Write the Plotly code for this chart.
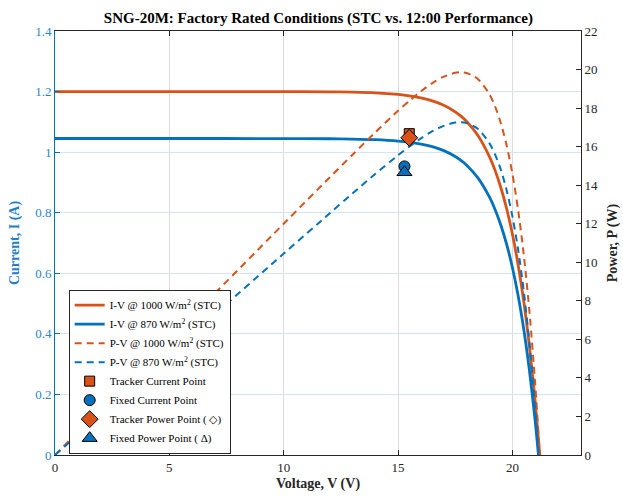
import plotly.graph_objects as go

# ---- data ----
v_1000 = [0, 5, 10, 12, 13, 14, 15, 15.5, 16, 16.5, 17, 17.5, 17.75, 18, 18.5, 19, 19.25, 19.5, 19.75, 20, 20.25, 20.5, 20.75, 21.0, 21.2]
i_1000 = [1.2, 1.2, 1.1998, 1.1991, 1.1980, 1.1957, 1.1905, 1.1860, 1.1793, 1.1694, 1.1548, 1.1332, 1.1188, 1.1013,
          1.0542, 0.9845, 0.9381, 0.8816, 0.8131, 0.7297, 0.6283, 0.5052, 0.3556, 0.1734, 0.0]
p_1000 = [0, 6.0, 12.0, 14.39, 15.57, 16.74, 17.86, 18.38, 18.87, 19.30, 19.63, 19.83, 19.86, 19.82,
          19.50, 18.71, 18.06, 17.19, 16.06, 14.59, 12.72, 10.36, 7.38, 3.64, 0.0]

v_870 = [0, 5, 10, 12, 13, 14, 15, 15.5, 16, 16.5, 17, 17.5, 17.75, 18, 18.5, 19, 19.25, 19.5, 19.75, 20, 20.25, 20.5, 20.75, 21.0, 21.14]
i_870 = [1.045, 1.045, 1.0448, 1.0442, 1.0433, 1.0412, 1.0367, 1.0327, 1.0267, 1.0179, 1.0049, 0.9855, 0.9726, 0.9568,
         0.9143, 0.8512, 0.8090, 0.7577, 0.6952, 0.6192, 0.5265, 0.4136, 0.2763, 0.1091, 0.0]
p_870 = [0, 5.225, 10.45, 12.53, 13.56, 14.58, 15.55, 16.01, 16.43, 16.80, 17.08, 17.25, 17.26, 17.22,
         16.91, 16.17, 15.57, 14.78, 13.73, 12.38, 10.66, 8.48, 5.73, 2.29, 0.0]

tracker_v, tracker_i, tracker_p = [15.49], [1.061], [16.46]
fixed_v, fixed_i, fixed_p = [15.28], [0.953], [14.67]

x_ticks = [0, 5, 10, 15, 20]
yl_ticks = [0, 0.2, 0.4, 0.6, 0.8, 1.0, 1.2, 1.4]
yr_ticks = list(range(0, 23, 2))

ORANGE = "#D95319"
BLUE = "#0072BD"
SERIF = "Liberation Serif, Times New Roman, serif"
DARK = "#262626"

fig = go.Figure()
fig.add_trace(go.Scatter(x=v_1000, y=i_1000, mode="lines", name="I-V @ 1000 W/m<sup>2</sup> (STC)",
                         line=dict(color=ORANGE, width=2.8, shape="spline", smoothing=0.8)))
fig.add_trace(go.Scatter(x=v_870, y=i_870, mode="lines", name="I-V @ 870 W/m<sup>2</sup> (STC)",
                         line=dict(color=BLUE, width=2.8, shape="spline", smoothing=0.8)))
fig.add_trace(go.Scatter(x=v_1000, y=p_1000, mode="lines", name="P-V @ 1000 W/m<sup>2</sup> (STC)", yaxis="y2",
                         line=dict(color=ORANGE, width=2, dash="7px,5px", shape="spline", smoothing=0.8)))
fig.add_trace(go.Scatter(x=v_870, y=p_870, mode="lines", name="P-V @ 870 W/m<sup>2</sup> (STC)", yaxis="y2",
                         line=dict(color=BLUE, width=2, dash="7px,5px", shape="spline", smoothing=0.8)))
fig.add_trace(go.Scatter(x=tracker_v, y=tracker_i, mode="markers", name="Tracker Current Point",
                         marker=dict(symbol="square", size=10, color=ORANGE, line=dict(color="black", width=1))))
fig.add_trace(go.Scatter(x=fixed_v, y=fixed_i, mode="markers", name="Fixed Current Point",
                         marker=dict(symbol="circle", size=11, color=BLUE, line=dict(color="black", width=1))))
fig.add_trace(go.Scatter(x=tracker_v, y=tracker_p, mode="markers", name="Tracker Power Point ( \u25c7)", yaxis="y2",
                         marker=dict(symbol="diamond", size=13, color=ORANGE, line=dict(color="black", width=1))))
fig.add_trace(go.Scatter(x=fixed_v, y=fixed_p, mode="markers", name="Fixed Power Point ( \u0394)", yaxis="y2",
                         marker=dict(symbol="triangle-up", size=13, color=BLUE, line=dict(color="black", width=1))))

fig.update_layout(
    width=623, height=497,
    margin=dict(l=55, r=42, t=31, b=42),
    paper_bgcolor="white", plot_bgcolor="white",
    font=dict(family=SERIF, size=13, color=DARK),
    title=dict(text="SNG-20M: Factory Rated Conditions (STC vs. 12:00 Performance)",
               x=0.511, xanchor="center", y=0.965, yanchor="middle",
               font=dict(family=SERIF, size=15, color="black", weight="bold")),
    xaxis=dict(range=[0, 23], tickvals=x_ticks, showgrid=True, gridcolor="#dcdcdc", gridwidth=1,
               zeroline=False, showline=True, linecolor=DARK, linewidth=1, mirror="ticks",
               ticks="inside", ticklen=5, tickcolor=DARK, automargin=False,
               tickfont=dict(family=SERIF, size=13, color=DARK),
               title=dict(text="Voltage, V (V)", standoff=4,
                          font=dict(family=SERIF, size=14, color=DARK, weight="bold"))),
    yaxis=dict(range=[0, 1.4], tickvals=yl_ticks, showgrid=True, gridcolor="#d5e6f3", gridwidth=1,
               zeroline=False, showline=True, linecolor=BLUE, linewidth=1, mirror=False,
               ticks="inside", ticklen=5, tickcolor=BLUE, automargin=False,
               tickfont=dict(family=SERIF, size=13, color="#2a86cc"),
               title=dict(text="Current, I (A)", standoff=12,
                          font=dict(family=SERIF, size=14, color="#1f7fc8", weight="bold"))),
    yaxis2=dict(range=[0, 22], tickvals=yr_ticks, overlaying="y", side="right", showgrid=False,
                zeroline=False, showline=True, linecolor=DARK, linewidth=1,
                ticks="inside", ticklen=5, tickcolor=DARK, automargin=False,
                tickfont=dict(family=SERIF, size=13, color=DARK),
                title=dict(text="Power, P (W)", standoff=10,
                           font=dict(family=SERIF, size=14, color=DARK, weight="bold"))),
    legend=dict(x=0.026, y=0.39, xanchor="left", yanchor="top", bgcolor="white",
                bordercolor=DARK, borderwidth=1, font=dict(family=SERIF, size=11, color="black"),
                tracegroupgap=0, itemwidth=30),
    showlegend=True,
)

fig.write_html("out.html")
